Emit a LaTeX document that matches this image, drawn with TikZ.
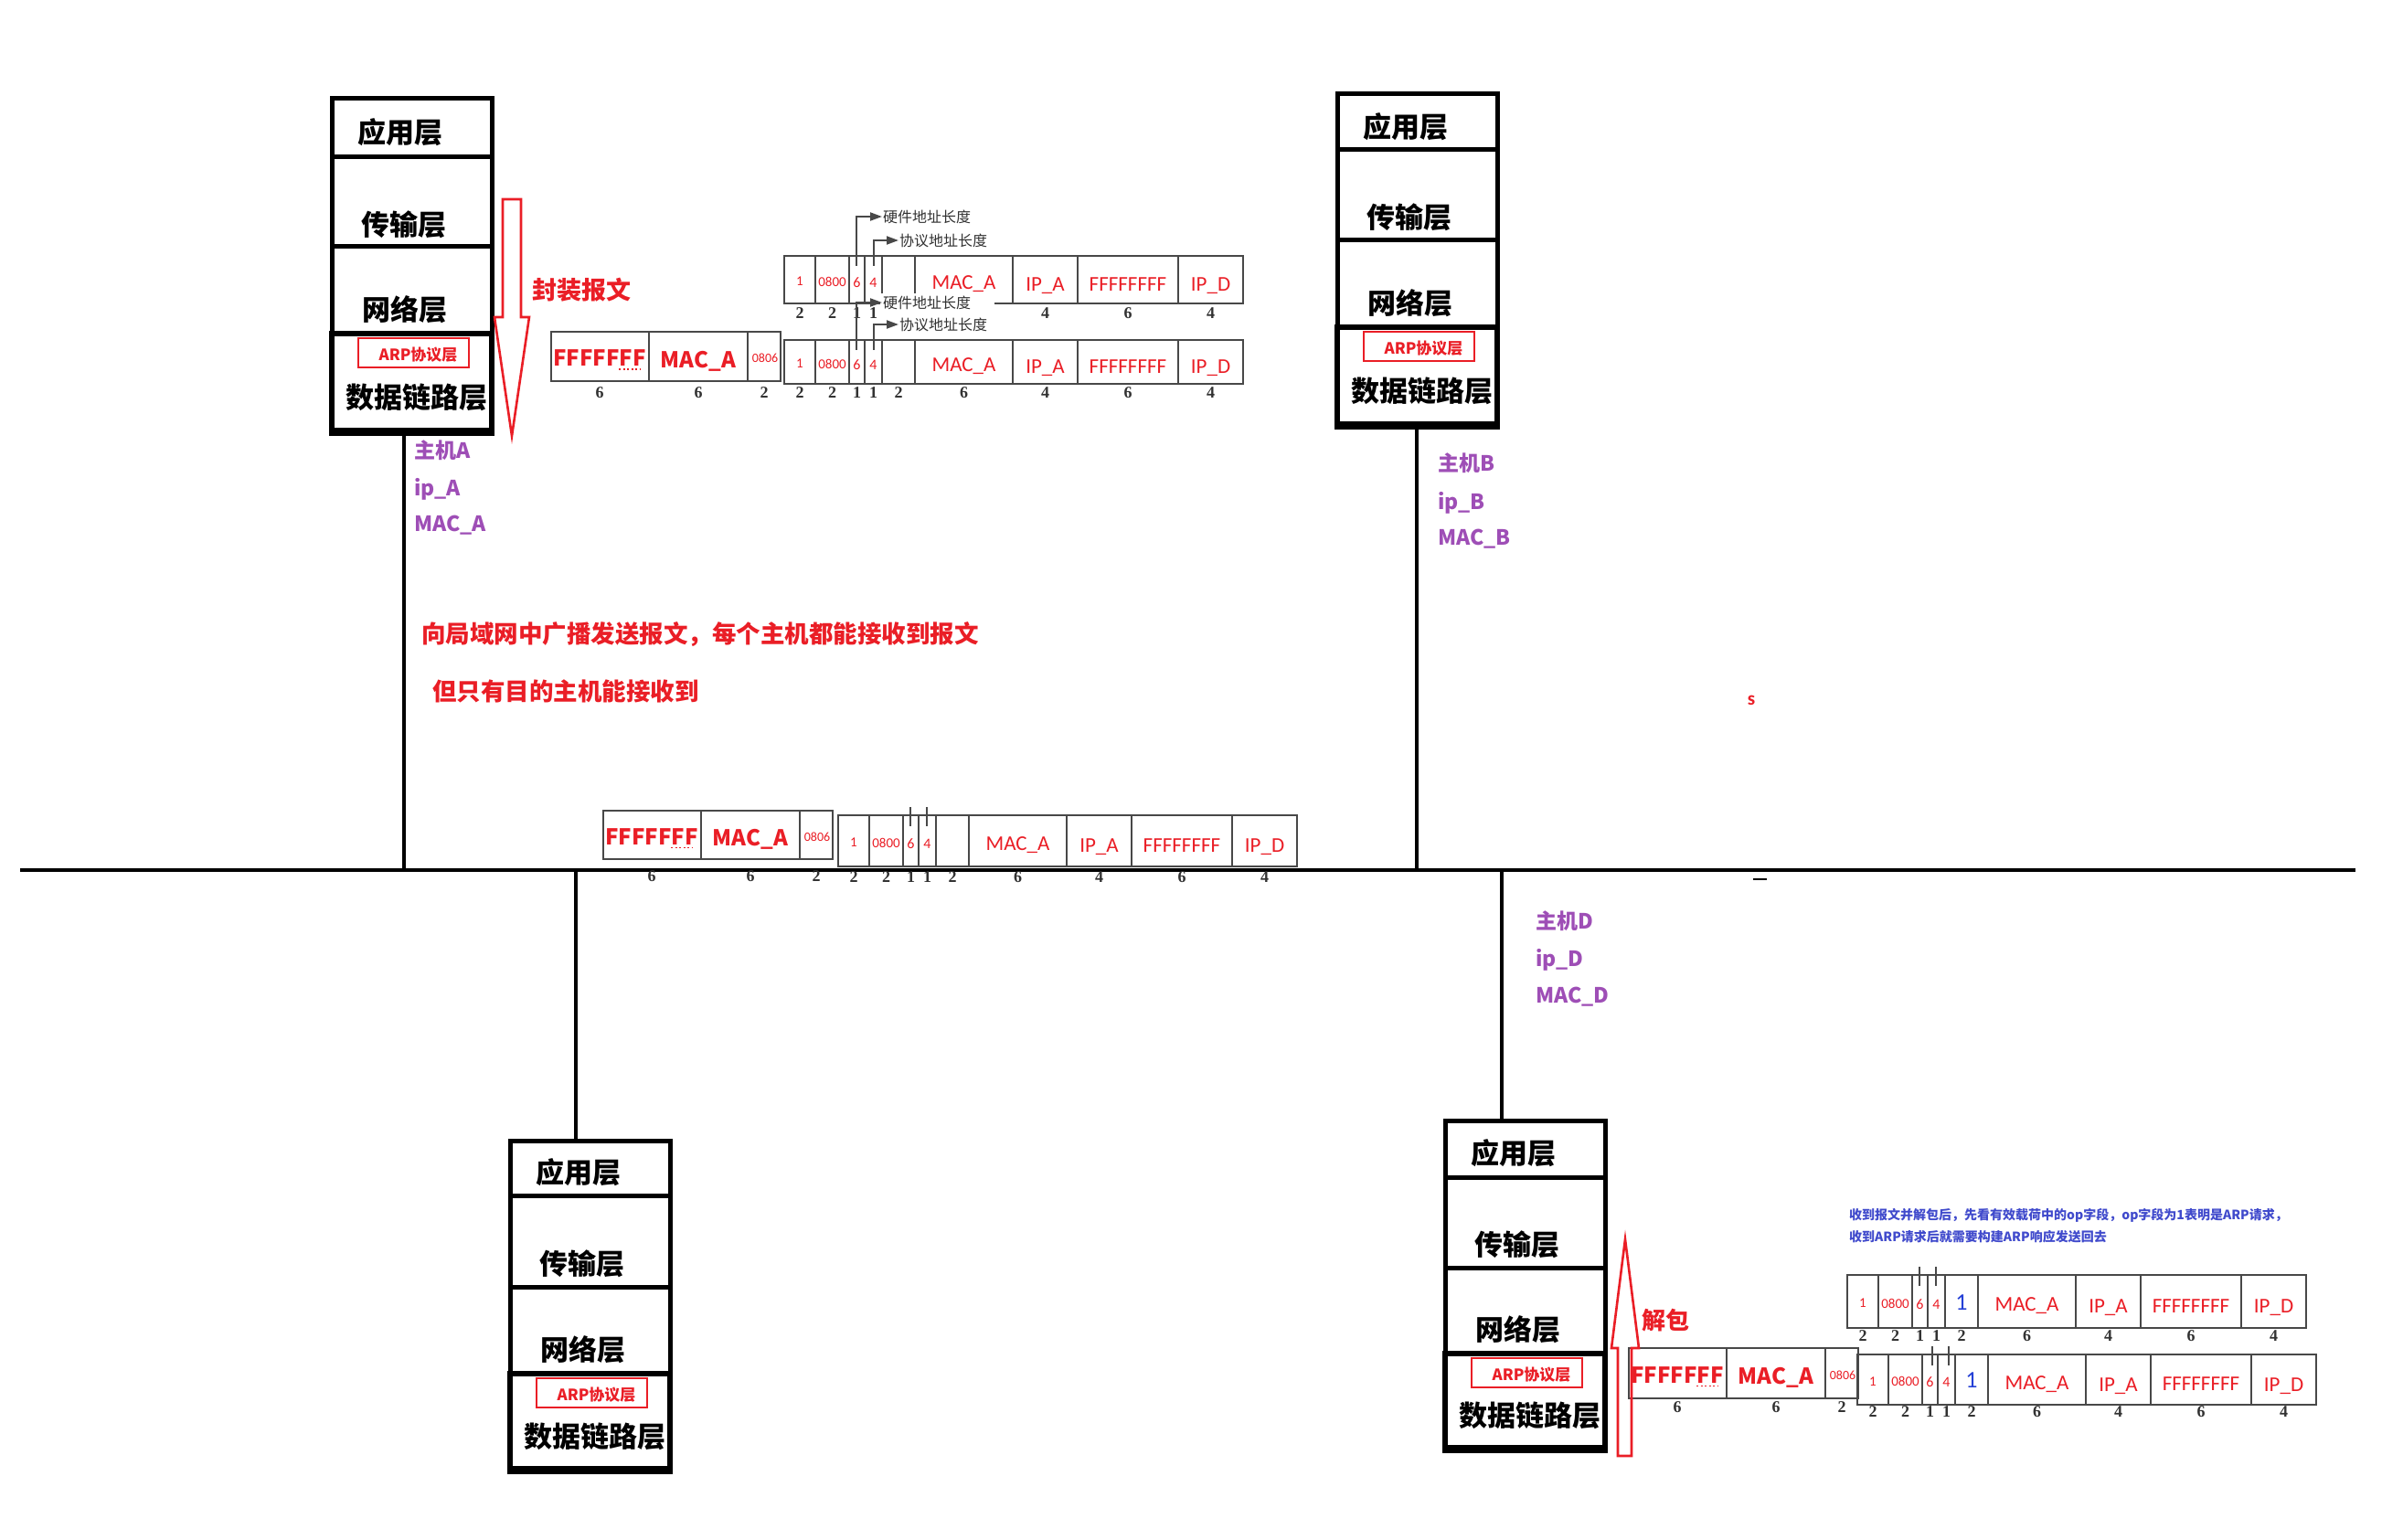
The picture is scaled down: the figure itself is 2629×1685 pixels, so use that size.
\documentclass[tikz,border=0pt]{standalone}
\usepackage{fontspec}
\setmainfont{Carlito}
\newfontfamily\cjk{Noto Sans CJK SC}
\newfontfamily\libser{Liberation Serif}
\newfontfamily\carl{Carlito}
\usetikzlibrary{arrows.meta,fit}

\definecolor{pred}{RGB}{234,30,38}
\definecolor{ppurple}{RGB}{158,78,182}
\definecolor{pblue}{RGB}{64,74,204}
\definecolor{opblue}{RGB}{36,64,214}
\definecolor{scan}{RGB}{72,72,72}
\definecolor{scantext}{RGB}{50,50,50}

\tikzset{
 layerbox/.style={draw=black, line width=5pt, inner sep=0pt, outer sep=0pt},
 layertxt/.style={inner sep=0pt, font=\cjk\bfseries\fontsize{31pt}{31pt}\selectfont},
 arpbox/.style={draw=pred, line width=2.6pt, inner sep=0pt},
 arptxt/.style={inner sep=0pt, text=pred, font=\cjk\bfseries\fontsize{17pt}{17pt}\selectfont},
 hostlbl/.style={anchor=west, inner sep=0pt, text=ppurple, font=\cjk\bfseries\fontsize{23pt}{23pt}\selectfont},
 wire/.style={line width=3.5pt, draw=black},
 pktline/.style={draw=scan, line width=2.2pt},
 numlab/.style={inner sep=0pt, text=scantext, font=\libser\bfseries\fontsize{18pt}{18pt}\selectfont},
 ethtxt/.style={inner sep=0pt, text=pred, font=\cjk\bfseries\fontsize{24pt}{24pt}\selectfont},
 fldtxt/.style={inner sep=0pt, text=pred, font=\carl\fontsize{23pt}{23pt}\selectfont},
 fldsmall/.style={inner sep=0pt, text=pred, font=\carl\fontsize{15pt}{15pt}\selectfont},
 annot/.style={draw=scan, line width=2pt, -{Triangle[length=13pt,width=9pt]}},
 annottxt/.style={anchor=west, inner sep=1pt, text=scantext, font=\cjk\fontsize{16pt}{16pt}\selectfont},
 blockarrow/.style={draw=pred, line width=2.6pt, line join=miter},
 redtxt/.style={inner sep=0pt, text=pred, font=\cjk\bfseries\fontsize{26.5pt}{26.5pt}\selectfont},
 bluetxt/.style={anchor=west, inner sep=0pt, text=pblue, font=\cjk\bfseries\fontsize{14pt}{14pt}\selectfont},
}

\newcommand\opone{\textcolor{opblue}{\fontsize{26pt}{26pt}\selectfont 1}}
\newcommand\labsfull{17/2,52.5/2,79.5/1,97.5/1,125/2,196.5/6,285.5/4,376/6,466.5/4}
\newcommand\labsup{17/2,52.5/2,79.5/1,97.5/1,285.5/4,376/6,466.5/4}

% name, xl, xr, yt, y1, y2, y3, yb
\newcommand\hoststack[8]{%
 \coordinate (#1-p1) at (#2,#4);
 \coordinate (#1-p2) at (#3,#5);
 \coordinate (#1-p3) at (#2,#5);
 \coordinate (#1-p4) at (#3,#6);
 \coordinate (#1-p5) at (#2,#6);
 \coordinate (#1-p6) at (#3,#7);
 \coordinate (#1-p7) at (#2,#7);
 \coordinate (#1-p8) at (#3,#8);
 \node[layerbox, fit=(#1-p1)(#1-p2)] (#1-app) {};
 \node[layerbox, fit=(#1-p3)(#1-p4)] (#1-trn) {};
 \node[layerbox, fit=(#1-p5)(#1-p6)] (#1-net) {};
 \node[layerbox, line width=6.5pt, fit=(#1-p7)(#1-p8)] (#1-dll) {};
 \draw[line width=9pt] ([xshift=-3pt]#1-dll.south west) -- ([xshift=3pt]#1-dll.south east);
 \node[layertxt] (#1-appt) at ({#2+75},{(#4+#5)/2+5}) {应用层};
 \node[layertxt] (#1-trnt) at ({#2+79},{#6-0.25*(#6-#5)}) {传输层};
 \node[layertxt] (#1-nett) at ({#2+80},{#7-0.28*(#7-#6)}) {网络层};
 \coordinate (#1-q1) at ({#2+29},{#7+5});
 \coordinate (#1-q2) at ({#2+150},{#7+37});
 \node[arpbox, fit=(#1-q1)(#1-q2)] (#1-arp) {};
 \node[arptxt] (#1-arpt) at ([xshift=5pt,yshift=-2pt]#1-arp.center) {ARP协议层};
 \node[layertxt] (#1-dllt) at ({#2+93},{#8-0.345*(#8-#7)}) {数据链路层};
}

% name, x0, ytop, ybot, labely
\newcommand\ethrow[5]{%
 \draw[pktline] (#2,#3) rectangle ({#2+251},#4);
 \draw[pktline] ({#2+107},#3) -- ({#2+107},#4);
 \draw[pktline] ({#2+215},#3) -- ({#2+215},#4);
 \node[ethtxt] (#1-dst) at ({#2+53},{(#3+#4)/2+2}) {FFFFFFF};
 \draw[pred, line width=1.6pt, dash pattern=on 2pt off 2.5pt] ({#2+74},{(#3+#4)/2+14}) -- ({#2+97},{(#3+#4)/2+14});
 \node[ethtxt] (#1-src) at ({#2+161},{(#3+#4)/2+5}) {MAC\_A};
 \node[inner sep=0pt, text=pred, font=\carl\fontsize{14pt}{14pt}\selectfont] (#1-typ) at ({#2+234},{(#3+#4)/2+2}) {0806};
 \node[numlab] (#1-n1) at ({#2+53},#5) {6};
 \node[numlab] (#1-n2) at ({#2+161},#5) {6};
 \node[numlab] (#1-n3) at ({#2+233},#5) {2};
}

% name, x0, ytop, ybot, opcontent, labely, label list
\newcommand\arprow[7]{%
 \draw[pktline] (#2,#3) rectangle ({#2+502},#4);
 \foreach \bx in {34,71,88,107,143,250,321,431}
   \draw[pktline] ({#2+\bx},#3) -- ({#2+\bx},#4);
 \node[fldsmall] (#1-c1) at ({#2+17},{(#3+#4)/2+2}) {1};
 \node[fldsmall] (#1-c2) at ({#2+52.5},{(#3+#4)/2+2}) {0800};
 \node[fldsmall, font=\carl\fontsize{16pt}{16pt}\selectfont] (#1-c3) at ({#2+79.5},{(#3+#4)/2+3}) {6};
 \node[fldsmall, font=\carl\fontsize{16pt}{16pt}\selectfont] (#1-c4) at ({#2+97.5},{(#3+#4)/2+3}) {4};
 \node[fldsmall] (#1-c5) at ({#2+125},{(#3+#4)/2+1}) {#5};
 \node[fldtxt] (#1-c6) at ({#2+196.5},{(#3+#4)/2+5}) {MAC\_A};
 \node[fldtxt] (#1-c7) at ({#2+285.5},{(#3+#4)/2+7}) {IP\_A};
 \node[fldtxt] (#1-c8) at ({#2+376},{(#3+#4)/2+5}) {FFFFFFFF};
 \node[fldtxt] (#1-c9) at ({#2+466.5},{(#3+#4)/2+7}) {IP\_D};
 \foreach \cx/\lab [count=\ii] in #7
   \node[numlab] (#1-n\ii) at ({#2+\cx},#6) {\lab};
}

\newcommand\stubs[2]{%
 \draw[pktline] ({#1+79},{#2-9}) -- ({#1+79},{#2+12});
 \draw[pktline] ({#1+97},{#2-9}) -- ({#1+97},{#2+12});
}

\begin{document}
\begin{tikzpicture}[x=1pt,y=-1pt]
\fill[white] (0,0) rectangle (2629,1685);
\useasboundingbox (0,0) rectangle (2629,1685);

% ---- bus ----
\coordinate (busL) at (22,952);
\coordinate (busR) at (2577,952);
\draw[wire] (busL) -- (busR);

% ---- hosts ----
\hoststack{A}{363}{538}{108}{172}{270}{365}{472}
\hoststack{B}{1463}{1638}{103}{164}{263}{358}{465}
\hoststack{C}{558}{733}{1248}{1308}{1408}{1503}{1608}
\hoststack{D}{1581}{1756}{1226}{1288}{1387}{1481}{1585}

\coordinate (tapA) at (442,952);
\coordinate (tapB) at (1550,952);
\coordinate (tapC) at (630,952);
\coordinate (tapD) at (1643,952);
\draw[wire] (tapA |- A-dll.south) -- (tapA);
\draw[wire] (tapB |- B-dll.south) -- (tapB);
\draw[wire] (tapC) -- (tapC |- C-app.north);
\draw[wire] (tapD) -- (tapD |- D-app.north);

\node[hostlbl] (A-name) at (453,493) {主机A};
\node[hostlbl] (A-ip)   at (453,535) {ip\_A};
\node[hostlbl] (A-mac)  at (453,575) {MAC\_A};
\node[hostlbl] (B-name) at (1573,507) {主机B};
\node[hostlbl] (B-ip)   at (1573,550) {ip\_B};
\node[hostlbl] (B-mac)  at (1573,590) {MAC\_B};
\node[hostlbl] (D-name) at (1680,1008) {主机D};
\node[hostlbl] (D-ip)   at (1680,1050) {ip\_D};
\node[hostlbl] (D-mac)  at (1680,1091) {MAC\_D};

% ---- host A: encapsulation ----
\draw[blockarrow] (550,218) -- (570,218) -- (570,347) -- (579,347) -- (560,477) -- (541,347) -- (550,347) -- cycle;
\node[redtxt, font=\cjk\bfseries\fontsize{27pt}{27pt}\selectfont] (encap) at (636,317) {封装报文};

\arprow{Aup}{858}{280}{332}{}{343}{\labsup}
\node[annottxt] (hwU) at (965,237) {硬件地址长度};
\node[annottxt] (paU) at (983,263) {协议地址长度};
\coordinate (hwUs) at (937,291);
\coordinate (paUs) at (956,291);
\draw[annot] (hwUs) |- (hwU.west);
\draw[annot] (paUs) |- (paU.west);

\ethrow{Aeth}{603}{363}{417}{430}
\fill[white] (963,321) rectangle (1088,366);
\arprow{Alow}{858}{372}{420}{}{430}{\labsfull}
\node[annottxt] (hwL) at (965,331) {硬件地址长度};
\node[annottxt] (paL) at (983,355) {协议地址长度};
\coordinate (hwLs) at (937,383);
\coordinate (paLs) at (956,383);
\draw[annot] (hwLs) |- (hwL.west);
\draw[annot] (paLs) |- (paL.west);

% ---- broadcast text ----
\node[redtxt, anchor=west] (bc1) at (461,694) {向局域网中广播发送报文，每个主机都能接收到报文};
\node[redtxt, anchor=west] (bc2) at (473,756) {但只有目的主机能接收到};

% ---- packet on the bus ----
\ethrow{Beth}{660}{887}{940}{959}
\arprow{Barp}{917}{892}{948}{}{960}{\labsfull}
\stubs{917}{892}

% ---- stray marks ----
\node[inner sep=0pt, text=pred, font=\carl\bfseries\fontsize{21pt}{21pt}\selectfont] (stray) at (1916,766) {s};
\draw[line width=2.5pt] (1918,962) -- (1933,962);

% ---- host D: decapsulation ----
\ethrow{Deth}{1782}{1475}{1530}{1540}
\arprow{Dup}{2021}{1395}{1453}{\opone}{1462}{\labsfull}
\stubs{2021}{1395}
\arprow{Dlow}{2032}{1482}{1537}{\opone}{1545}{\labsfull}
\stubs{2035}{1482}
\draw[blockarrow] (1770,1593) -- (1785,1593) -- (1785,1475) -- (1793,1475) -- (1778,1356) -- (1763,1475) -- (1770,1475) -- cycle;
\node[redtxt, font=\cjk\bfseries\fontsize{26pt}{26pt}\selectfont] (decap) at (1822,1445) {解包};

\node[bluetxt] (note1) at (2023,1330) {收到报文并解包后，先看有效载荷中的op字段，op字段为1表明是ARP请求，};
\node[bluetxt] (note2) at (2023,1353) {收到ARP请求后就需要构建ARP响应发送回去};
\end{tikzpicture}
\end{document}
